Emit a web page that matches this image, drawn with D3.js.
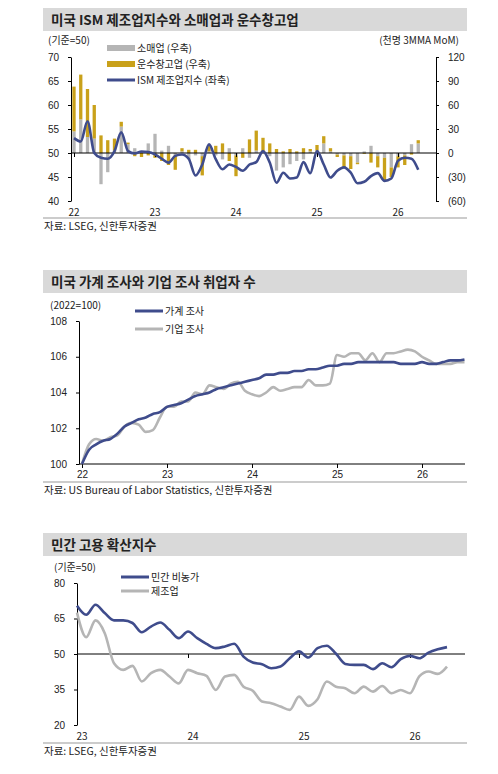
<!DOCTYPE html>
<html>
<head>
<meta charset="utf-8">
<script src="https://d3js.org/d3.v7.min.js"></script>
<style>
  body { margin: 0; background: #fff; font-family: "Noto Sans CJK KR", "Noto Sans", sans-serif; }
  svg text { fill: #222; }
</style>
</head>
<body>
<svg id="chart" width="498" height="774"></svg>
<script>
// ---- chart 1: ISM manufacturing, retail & warehouse employment (monthly, Jan 22 ~ Apr 26)
const ism = [53.1,52.4,56.6,50.0,49.0,48.8,50.4,54.3,50.4,49.9,50.3,50.2,49.7,48.8,48.0,49.4,49.7,48.8,45.3,47.6,
  51.8,48.7,46.6,47.6,47.1,46.3,47.6,48.1,50.4,48.0,43.8,45.9,44.7,44.9,48.1,45.8,50.4,47.6,44.9,46.3,
  47.0,45.9,43.7,44.0,45.2,45.8,44.2,44.7,48.4,49.0,48.8,46.5];
const retail = [27,42,20,18,-39,-24,3,33,11,6,2,12,24,3,9,-3,2,-8,-3,-4,
  2,-3,-8,6,-3,6,-6,3,2,-4,-22,-18,-14,-10,-8,2,3,12,2,-2,
  -3,-4,-12,2,9,-4,-6,-18,-4,-3,11,12];
const warehouse = [56,56,60,42,22,16,15,6,2,-4,-5,-3,-6,-10,-15,-18,4,4,4,-24,
  7,9,12,-10,-26,-6,17,25,17,12,5,2,5,2,6,3,7,9,4,-3,
  -16,-16,-2,-1,-12,-14,-28,-12,-14,-12,-2,4];
const yearTicks1 = ["22","23","24","25","26"];

// ---- chart 2: household vs establishment survey employment (2022=100)
const household = [100,100.8,101.1,101.3,101.4,101.7,102.1,102.3,102.5,102.6,102.8,102.9,103.2,103.3,103.4,103.6,103.8,103.9,
  104.0,104.2,104.3,104.4,104.5,104.6,104.7,104.8,105.0,105.0,105.1,105.1,105.2,105.2,105.3,105.3,105.4,105.5,
  105.5,105.6,105.6,105.7,105.7,105.7,105.7,105.7,105.7,105.6,105.6,105.6,105.7,105.6,105.6,105.7,105.8,105.8,105.85];
const establishment = [100,101.1,101.4,101.3,101.5,101.6,102.1,102.3,102.2,101.8,101.9,102.6,103.2,103.2,103.5,103.5,104.0,103.9,
  104.4,104.3,104.2,104.5,104.6,104.1,103.9,103.8,104.0,104.3,104.1,104.2,104.3,104.3,104.7,104.4,104.4,104.5,
  106.1,106.0,106.2,106.2,105.8,106.2,105.7,106.2,106.2,106.3,106.4,106.3,106.0,105.8,105.6,105.6,105.6,105.7,105.7];
const yearTicks2 = ["22","23","24","25","26"];

// ---- chart 3: employment diffusion index (Jan 23 ~)
const privateNf = [70.4,66.6,70.8,67.3,64.2,64.2,63.1,59.2,61.6,63.3,60.2,56.7,59.5,56.7,54.3,52.5,53.2,54.3,48.9,46.4,
  45.7,44.0,44.7,48.2,51.1,48.5,52.5,53.5,50.1,45.8,45.4,45.4,43.6,46.1,44.4,47.8,49.2,48.2,50.6,52.0,52.9];
const manuf = [67.5,57.1,64.2,58.8,46.1,43.3,45.0,38.4,41.9,43.3,40.5,37.6,43.3,41.9,40.8,34.8,40.5,41.2,36.2,34.5,
  29.9,29.2,27.8,26.4,32.0,28.1,30.9,38.4,36.2,35.5,33.4,36.2,34.1,36.5,33.4,34.8,33.4,40.5,42.6,41.6,44.7];
const yearTicks3 = ["23","24","25","26"];

const BLUE = "#3f4c8c", GRAY = "#b5b5b5", GOLD = "#c9a11a";
const svg = d3.select("#chart");

function panel(y0, h, title) {
  svg.append("rect").attr("x", 43).attr("y", y0).attr("width", 424).attr("height", h).attr("fill", "#d9d9d9");
  svg.append("text").attr("x", 51).attr("y", y0 + h / 2 + 5).attr("font-size", 13.5).attr("font-weight", "bold").text(title);
}
function source(y, txt) {
  svg.append("line").attr("x1", 43).attr("x2", 467).attr("y1", y).attr("y2", y).attr("stroke", "#999");
  svg.append("text").attr("x", 44).attr("y", y + 12).attr("font-size", 10.5).text(txt);
}
function legendRow(x, y, color, label, bar) {
  if (bar) svg.append("rect").attr("x", x).attr("y", y - 3).attr("width", 28).attr("height", 6).attr("fill", color);
  else svg.append("line").attr("x1", x).attr("x2", x + 28).attr("y1", y).attr("y2", y).attr("stroke", color).attr("stroke-width", 3);
  svg.append("text").attr("x", x + 30).attr("y", y + 4).attr("font-size", 10).text(label);
}
function styleAxis(g) {
  g.selectAll("path, line").attr("stroke", "#000");
  g.selectAll("text").attr("font-size", 10).attr("fill", "#222");
}
const fmtNeg = d => d < 0 ? "(" + (-d) + ")" : d;

// ================= chart 1 =================
panel(8, 23, "미국 ISM 제조업지수와 소매업과 운수창고업");
{
  const x = d3.scaleLinear().domain([0, 12]).range([74, 155]);
  const yL = d3.scaleLinear().domain([40, 70]).range([201, 57]);
  const yR = d3.scaleLinear().domain([-60, 120]).range([201, 57]);
  const bw = 3.3;
  retail.forEach((r, i) => {
    const w = warehouse[i];
    svg.append("rect").attr("x", x(i) - bw / 2).attr("width", bw)
      .attr("y", yR(Math.max(r, 0))).attr("height", Math.abs(yR(r) - yR(0))).attr("fill", GRAY);
    const base = (Math.sign(w) === Math.sign(r)) ? r : 0;
    svg.append("rect").attr("x", x(i) - bw / 2).attr("width", bw)
      .attr("y", yR(Math.max(base, base + w))).attr("height", Math.abs(yR(base + w) - yR(base))).attr("fill", GOLD);
  });
  const ax = svg.append("g").attr("transform", "translate(0," + yL(50) + ")")
    .call(d3.axisBottom(x).tickValues([0, 12, 24, 36, 48]).tickSize(4).tickFormat(() => ""));
  styleAxis(ax);
  ax.select("path").attr("d", "M71,0H436");
  yearTicks1.forEach((t, i) => svg.append("text").attr("x", x(i * 12)).attr("y", 216).attr("text-anchor", "middle").attr("font-size", 10).text(t));
  const al = svg.append("g").attr("transform", "translate(71,0)").call(d3.axisLeft(yL).ticks(6).tickSize(3).tickSizeOuter(0));
  styleAxis(al); al.selectAll("text").attr("dx", -6);
  const ar = svg.append("g").attr("transform", "translate(436,0)").call(d3.axisRight(yR).tickValues([-60, -30, 0, 30, 60, 90, 120]).tickFormat(fmtNeg).tickSize(3).tickSizeOuter(0));
  styleAxis(ar); ar.selectAll("text").attr("dx", 6);
  svg.append("path").datum(ism).attr("fill", "none").attr("stroke", BLUE).attr("stroke-width", 2.6)
    .attr("d", d3.line().x((d, i) => x(i)).y(d => yL(d)).curve(d3.curveMonotoneX));
  svg.append("text").attr("x", 48).attr("y", 44).attr("font-size", 10).text("(기준=50)");
  svg.append("text").attr("x", 459).attr("y", 44).attr("text-anchor", "end").attr("font-size", 10).text("(천명 3MMA MoM)");
  legendRow(107, 48, GRAY, "소매업 (우축)", true);
  legendRow(107, 64, GOLD, "운수창고업 (우축)", true);
  legendRow(107, 80, BLUE, "ISM 제조업지수 (좌축)", false);
}
source(218, "자료: LSEG, 신한투자증권");

// ================= chart 2 =================
panel(270, 23, "미국 가계 조사와 기업 조사 취업자 수");
{
  const x = d3.scaleLinear().domain([0, 12]).range([82, 167]);
  const y = d3.scaleLinear().domain([100, 108]).range([464, 321]);
  const ax = svg.append("g").attr("transform", "translate(0,464)")
    .call(d3.axisBottom(x).tickValues([0, 12, 24, 36, 48]).tickSize(4).tickFormat((d, i) => yearTicks2[i]));
  styleAxis(ax); ax.select("path").attr("d", "M79,0H465");
  const al = svg.append("g").attr("transform", "translate(79,0)").call(d3.axisLeft(y).ticks(4).tickSize(3).tickSizeOuter(0));
  styleAxis(al); al.selectAll("text").attr("dx", -6);
  const line = d3.line().x((d, i) => x(i)).y(d => y(d)).curve(d3.curveMonotoneX);
  svg.append("path").datum(establishment).attr("fill", "none").attr("stroke", GRAY).attr("stroke-width", 2.6).attr("d", line);
  svg.append("path").datum(household).attr("fill", "none").attr("stroke", BLUE).attr("stroke-width", 2.6).attr("d", line);
  svg.append("text").attr("x", 50).attr("y", 309).attr("font-size", 10).text("(2022=100)");
  legendRow(135, 311, BLUE, "가계 조사", false);
  legendRow(135, 329, GRAY, "기업 조사", false);
}
source(482, "자료: US Bureau of Labor Statistics, 신한투자증권");

// ================= chart 3 =================
panel(533, 23, "민간 고용 확산지수");
{
  const x = d3.scaleLinear().domain([0, 12]).range([77, 188]);
  const y = d3.scaleLinear().domain([20, 80]).range([725, 583]);
  const ax = svg.append("g").attr("transform", "translate(0," + y(50) + ")")
    .call(d3.axisBottom(x).tickValues([12, 24, 36]).tickSize(4).tickFormat(""));
  styleAxis(ax); ax.select("path").attr("d", "M77,0H465");
  yearTicks3.forEach((t, i) => svg.append("text").attr("x", x(i * 12) + 5).attr("y", 740).attr("text-anchor", "middle").attr("font-size", 10).text(t));
  const al = svg.append("g").attr("transform", "translate(77,0)").call(d3.axisLeft(y).tickValues([20, 35, 50, 65, 80]).tickSize(3).tickSizeOuter(0));
  styleAxis(al); al.selectAll("text").attr("dx", -6);
  const line = d3.line().x((d, i) => x(i)).y(d => y(d)).curve(d3.curveMonotoneX);
  svg.append("path").datum(manuf).attr("fill", "none").attr("stroke", GRAY).attr("stroke-width", 2.6).attr("d", line);
  svg.append("path").datum(privateNf).attr("fill", "none").attr("stroke", BLUE).attr("stroke-width", 2.6).attr("d", line);
  svg.append("text").attr("x", 54).attr("y", 571).attr("font-size", 10).text("(기준=50)");
  legendRow(121, 577, BLUE, "민간 비농가", false);
  legendRow(121, 591, GRAY, "제조업", false);
}
source(743, "자료: LSEG, 신한투자증권");
</script>
</body>
</html>
